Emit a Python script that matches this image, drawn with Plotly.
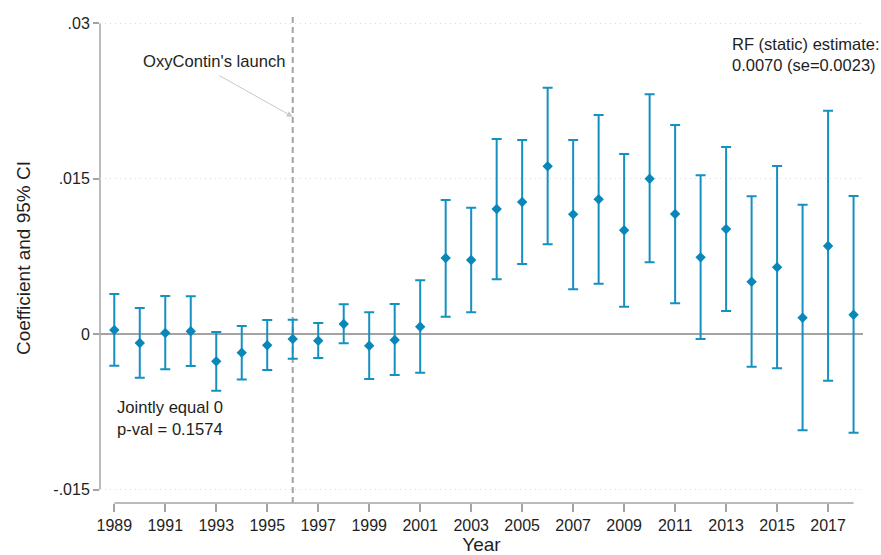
import plotly.graph_objects as go

years = list(range(1989, 2019))
coef = [0.00042, -0.00084, 0.00013, 0.00029, -0.00261, -0.00177, -0.00106, -0.00045, -0.00062, 0.00099,
        -0.0011, -0.00055, 0.00073, 0.00736, 0.00717, 0.01209, 0.01277, 0.01622, 0.01158, 0.01303,
        0.01004, 0.01502, 0.01161, 0.00743, 0.01016, 0.00508, 0.00647, 0.0016, 0.00852, 0.00189]
ci_hi = [0.00389, 0.00254, 0.0037, 0.00367, 0.00022, 0.0008, 0.00138, 0.00141, 0.00109, 0.0029,
         0.00212, 0.00292, 0.00521, 0.01296, 0.01222, 0.01885, 0.01875, 0.0238, 0.01875, 0.02117,
         0.0174, 0.02317, 0.0202, 0.01535, 0.01808, 0.01332, 0.01625, 0.01251, 0.02158, 0.01335]
ci_lo = [-0.00303, -0.00419, -0.00338, -0.00306, -0.00544, -0.00435, -0.00345, -0.00235, -0.00229, -0.00087,
         -0.00431, -0.00393, -0.00371, 0.0017, 0.00212, 0.00531, 0.00679, 0.00869, 0.00434, 0.00489,
         0.00267, 0.00695, 0.00299, -0.00045, 0.00225, -0.00313, -0.00328, -0.00927, -0.00448, -0.0095]

x_ticks = list(range(1989, 2019, 2))
y_ticks = [-0.015, 0, 0.015, 0.03]
y_ticklabels = ["-.015", "0", ".015", ".03"]
launch_year = 1996

BAR = "#1591c1"
MARK = "#0a87b9"
GRAY = "#a3a3a3"
FONT = "Liberation Sans, Arial, sans-serif"
TXT = "#1e1e1e"

err_plus = [h - c for h, c in zip(ci_hi, coef)]
err_minus = [c - l for c, l in zip(coef, ci_lo)]

fig = go.Figure()
fig.add_trace(go.Scatter(
    x=years, y=coef, mode="markers",
    marker=dict(symbol="diamond", size=8, color=MARK),
    error_y=dict(type="data", symmetric=False, array=err_plus, arrayminus=err_minus,
                 color=BAR, thickness=2, width=5),
    showlegend=False, hoverinfo="skip",
))

shapes = [
    dict(type="line", xref="x", yref="paper", x0=launch_year, x1=launch_year, y0=0, y1=1,
         line=dict(color=GRAY, width=2, dash="6px,4px"), layer="below"),
    dict(type="line", xref="paper", yref="y", x0=0, x1=0, y0=min(y_ticks), y1=max(y_ticks),
         line=dict(color=GRAY, width=1.5), layer="below"),
    dict(type="line", xref="x", yref="paper", x0=min(years), x1=max(years), y0=0, y1=0,
         line=dict(color=GRAY, width=1.5), layer="below"),
]

annotations = [
    dict(xref="x", yref="y", x=launch_year, y=0.021, ax=-75, ay=-42, text="",
         showarrow=True, arrowhead=2, arrowsize=1.2, arrowwidth=1, arrowcolor="#c8c8c8"),
    dict(xref="paper", yref="paper", x=0.2447, y=0.9006, xanchor="right", yanchor="middle",
         text="OxyContin's launch", showarrow=False, font=dict(size=16.6, color=TXT)),
    dict(xref="paper", yref="paper", x=0.8257, y=0.9159, xanchor="left", yanchor="middle",
         align="left", text="RF (static) estimate:<br>0.0070 (se=0.0023)", showarrow=False,
         font=dict(size=16.5, color=TXT)),
    dict(xref="paper", yref="paper", x=0.0195, y=0.172, xanchor="left", yanchor="middle",
         align="left", text="Jointly equal 0<br>p-val = 0.1574", showarrow=False,
         font=dict(size=16.6, color=TXT)),
]

fig.update_layout(
    width=881, height=555,
    margin=dict(l=100, r=18, t=13, b=52),
    paper_bgcolor="white", plot_bgcolor="white",
    font=dict(family=FONT, size=16, color=TXT),
    shapes=shapes, annotations=annotations,
    xaxis=dict(range=[1988.44, 2018.37], tickvals=x_ticks, ticks="outside", ticklen=8,
               tickwidth=1.5, tickcolor=GRAY, showgrid=False, zeroline=False, showline=False,
               automargin=False,
               title=dict(text="Year", standoff=8), tickfont=dict(size=16)),
    yaxis=dict(range=[-0.01628, 0.03101], tickvals=y_ticks, ticktext=y_ticklabels,
               ticks="outside", ticklen=6, tickwidth=1.5, tickcolor=GRAY,
               showgrid=True, gridcolor="#d9d9d9", griddash="1px,4px", gridwidth=1,
               zeroline=True, zerolinecolor=GRAY, zerolinewidth=1.5, showline=False,
               automargin=False,
               title=dict(text="Coefficient and 95% CI", standoff=17), tickfont=dict(size=16)),
)

# Remove the default page margin so the 881x555 figure fills the window exactly.
fig.write_html("out.html",
               config={"displayModeBar": False},
               post_script="document.body.style.margin='0';document.body.style.overflow='hidden';")
